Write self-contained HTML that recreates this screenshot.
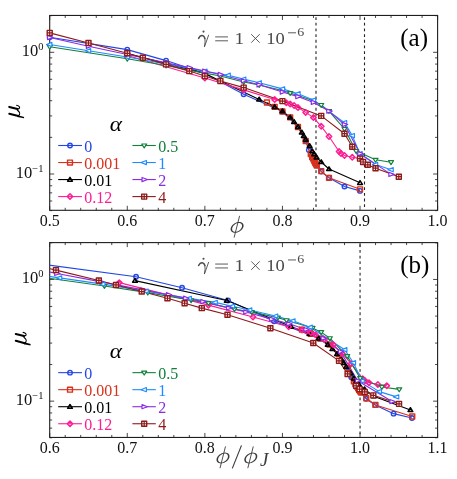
<!DOCTYPE html>
<html><head><meta charset="utf-8"><title>chart</title>
<style>
html,body{margin:0;padding:0;background:#fff;}
svg{display:block;will-change:transform;}
text{font-family:"Liberation Serif",serif;}
</style></head><body>
<svg width="457" height="479" viewBox="0 0 457 479">
<rect width="457" height="479" fill="#fff"/>
<defs>
<clipPath id="c1"><rect x="49.7" y="15.45" width="387.9" height="194.85"/></clipPath>
<clipPath id="c2"><rect x="49.7" y="242.6" width="387.9" height="194.85"/></clipPath>
</defs>

<path d="M316 15.45V210.3" stroke="#222" stroke-width="1.1" stroke-dasharray="2.8 2.87" stroke-dashoffset="3.97" fill="none"/>
<path d="M364.5 15.45V210.3" stroke="#222" stroke-width="1.1" stroke-dasharray="2.8 2.87" stroke-dashoffset="3.97" fill="none"/>
<path d="M49.7 210.3v-4.5M49.7 15.45v4.5M65.22 210.3v-2.5M65.22 15.45v2.5M80.73 210.3v-2.5M80.73 15.45v2.5M96.25 210.3v-2.5M96.25 15.45v2.5M111.76 210.3v-2.5M111.76 15.45v2.5M127.28 210.3v-4.5M127.28 15.45v4.5M142.8 210.3v-2.5M142.8 15.45v2.5M158.31 210.3v-2.5M158.31 15.45v2.5M173.83 210.3v-2.5M173.83 15.45v2.5M189.34 210.3v-2.5M189.34 15.45v2.5M204.86 210.3v-4.5M204.86 15.45v4.5M220.38 210.3v-2.5M220.38 15.45v2.5M235.89 210.3v-2.5M235.89 15.45v2.5M251.41 210.3v-2.5M251.41 15.45v2.5M266.92 210.3v-2.5M266.92 15.45v2.5M282.44 210.3v-4.5M282.44 15.45v4.5M297.96 210.3v-2.5M297.96 15.45v2.5M313.47 210.3v-2.5M313.47 15.45v2.5M328.99 210.3v-2.5M328.99 15.45v2.5M344.5 210.3v-2.5M344.5 15.45v2.5M360.02 210.3v-4.5M360.02 15.45v4.5M375.54 210.3v-2.5M375.54 15.45v2.5M391.05 210.3v-2.5M391.05 15.45v2.5M406.57 210.3v-2.5M406.57 15.45v2.5M422.08 210.3v-2.5M422.08 15.45v2.5M437.6 210.3v-4.5M437.6 15.45v4.5M49.7 52.3h4.5M437.6 52.3h-4.5M49.7 15.66h2.5M437.6 15.66h-2.5M49.7 174h4.5M437.6 174h-4.5M49.7 137.36h2.5M437.6 137.36h-2.5M49.7 115.93h2.5M437.6 115.93h-2.5M49.7 100.73h2.5M437.6 100.73h-2.5M49.7 88.94h2.5M437.6 88.94h-2.5M49.7 79.3h2.5M437.6 79.3h-2.5M49.7 71.15h2.5M437.6 71.15h-2.5M49.7 64.09h2.5M437.6 64.09h-2.5M49.7 57.87h2.5M437.6 57.87h-2.5M49.7 210.64h2.5M437.6 210.64h-2.5M49.7 201h2.5M437.6 201h-2.5M49.7 192.85h2.5M437.6 192.85h-2.5M49.7 185.79h2.5M437.6 185.79h-2.5M49.7 179.57h2.5M437.6 179.57h-2.5" stroke="#333" stroke-width="0.9" fill="none"/>
<rect x="49.7" y="15.45" width="387.9" height="194.85" fill="none" stroke="#1e1e1e" stroke-width="1.1"/>
<g fill="none" stroke-width="1.1" stroke-linejoin="round" clip-path="url(#c1)">
<path d="M49.7 37.3L127.28 49.6L166.07 60.6L204.86 73.4L243.65 94.2L282.44 111.5L297.96 127L305.71 140.7L308.82 150.1L312.31 158.5L316.89 165.2L321.23 171.6L328.99 177.8L344.5 186.5L360.02 190.9" stroke="#2346e6"/>
<path d="M266.92 102.5L274.68 106.8L282.44 111.5L290.2 117.4L297.96 127L305.71 141L310.76 154.1L312.15 157L313.47 159.4L314.33 161.2L315.18 162.9L316.03 164.3L316.89 165.5L321.23 171.1L328.99 177.8L360.02 189.3" stroke="#d9301a"/>
<path d="M127.28 53.5L204.86 73.4L259.17 99.4L274.68 106.8L282.44 111.2L290.2 117.4L294.08 121.8L297.96 126.8L301.83 132.3L303.77 135.8L305.71 139.6L309.59 145.9L312.31 151.2L314.25 154.1L316.58 157.3L321.23 162L328.99 169L360.02 182.8" stroke="#000000"/>
<path d="M127.28 55.5L204.86 78L243.65 89.9L274.68 99.6L286.32 102.8L290.2 104.1L294.08 105.5L297.96 107.6L305.71 112.4L313.47 117.6L321.23 126.3L328.99 136.5L339.07 151.5L341.01 153.5L344.5 155.5L352.26 157.3L360.02 158.5" stroke="#ff1c93"/>
<path d="M49.7 46.7L127.28 58.8L166.07 65.5L204.86 73.1L220.38 76L243.65 82L259.17 85L282.44 90.5L290.2 93.1L313.47 100.8L321.23 105L328.99 111.1L344.5 129L356.14 151L375.54 159.8L391.05 162.2" stroke="#12803a"/>
<path d="M49.7 44.5L88.49 50.7L127.28 57L166.07 64L204.86 71.2L228.13 75.2L243.65 79.1L259.17 82.8L282.44 88.9L297.96 93.7L313.47 100.1L344.5 122.6L352.26 135.6L360.02 153.7L375.54 164.5L391.05 169.7" stroke="#1e8cff"/>
<path d="M49.7 37.5L88.49 46.3L127.28 54.5L166.07 62.7L189.34 67.6L204.86 71.1L220.38 74.5L243.65 80.8L259.17 84.8L282.44 92L297.96 96.6L313.47 102.4L328.99 111.1L344.5 124.5L360.02 153.6L391.05 174.4" stroke="#8a2be2"/>
<path d="M49.7 32.9L88.49 43L127.28 53.3L142.8 57.8L166.07 64.4L189.34 71.1L204.86 76.1L220.38 81L243.65 87.6L282.44 101.1L321.23 115.9L344.5 133.7L352.26 146.8L360.02 158.6L363.12 162L367.78 164.8L375.54 168.2L398.81 176.7" stroke="#8e1a1a"/>
</g>
<g stroke-width="1.4" stroke-linejoin="round">
<g stroke="#2346e6" fill="none">
<circle cx="49.7" cy="37.3" r="2.25"/>
<circle cx="127.28" cy="49.6" r="2.25"/>
<circle cx="166.07" cy="60.6" r="2.25"/>
<circle cx="204.86" cy="73.4" r="2.25"/>
<circle cx="243.65" cy="94.2" r="2.25"/>
<circle cx="282.44" cy="111.5" r="2.25"/>
<circle cx="297.96" cy="127" r="2.25"/>
<circle cx="305.71" cy="140.7" r="2.25"/>
<circle cx="308.82" cy="150.1" r="2.25"/>
<circle cx="312.31" cy="158.5" r="2.25"/>
<circle cx="316.89" cy="165.2" r="2.25"/>
<circle cx="321.23" cy="171.6" r="2.25"/>
<circle cx="328.99" cy="177.8" r="2.25"/>
<circle cx="344.5" cy="186.5" r="2.25"/>
<circle cx="360.02" cy="190.9" r="2.25"/>
</g>
<g stroke="#d9301a" fill="none">
<rect x="264.47" y="100.05" width="4.9" height="4.9"/>
<rect x="272.23" y="104.35" width="4.9" height="4.9"/>
<rect x="279.99" y="109.05" width="4.9" height="4.9"/>
<rect x="287.75" y="114.95" width="4.9" height="4.9"/>
<rect x="295.51" y="124.55" width="4.9" height="4.9"/>
<rect x="303.26" y="138.55" width="4.9" height="4.9"/>
<rect x="308.31" y="151.65" width="4.9" height="4.9"/>
<rect x="309.7" y="154.55" width="4.9" height="4.9"/>
<rect x="311.02" y="156.95" width="4.9" height="4.9"/>
<rect x="311.88" y="158.75" width="4.9" height="4.9"/>
<rect x="312.73" y="160.45" width="4.9" height="4.9"/>
<rect x="313.58" y="161.85" width="4.9" height="4.9"/>
<rect x="314.44" y="163.05" width="4.9" height="4.9"/>
<rect x="318.78" y="168.65" width="4.9" height="4.9"/>
<rect x="326.54" y="175.35" width="4.9" height="4.9"/>
<rect x="357.57" y="186.85" width="4.9" height="4.9"/>
</g>
<g stroke="#000000" fill="none">
<path d="M127.28 51.3L129.68 55.1H124.88Z" stroke-width="1.5"/>
<path d="M204.86 71.2L207.26 75H202.46Z" stroke-width="1.5"/>
<path d="M259.17 97.2L261.57 101H256.77Z" stroke-width="1.5"/>
<path d="M274.68 104.6L277.08 108.4H272.28Z" stroke-width="1.5"/>
<path d="M282.44 109L284.84 112.8H280.04Z" stroke-width="1.5"/>
<path d="M290.2 115.2L292.6 119H287.8Z" stroke-width="1.5"/>
<path d="M294.08 119.6L296.48 123.4H291.68Z" stroke-width="1.5"/>
<path d="M297.96 124.6L300.36 128.4H295.56Z" stroke-width="1.5"/>
<path d="M301.83 130.1L304.23 133.9H299.44Z" stroke-width="1.5"/>
<path d="M303.77 133.6L306.17 137.4H301.37Z" stroke-width="1.5"/>
<path d="M305.71 137.4L308.11 141.2H303.31Z" stroke-width="1.5"/>
<path d="M309.59 143.7L311.99 147.5H307.19Z" stroke-width="1.5"/>
<path d="M312.31 149L314.71 152.8H309.91Z" stroke-width="1.5"/>
<path d="M314.25 151.9L316.65 155.7H311.85Z" stroke-width="1.5"/>
<path d="M316.58 155.1L318.98 158.9H314.18Z" stroke-width="1.5"/>
<path d="M321.23 159.8L323.63 163.6H318.83Z" stroke-width="1.5"/>
<path d="M328.99 166.8L331.39 170.6H326.59Z" stroke-width="1.5"/>
<path d="M360.02 180.6L362.42 184.4H357.62Z" stroke-width="1.5"/>
</g>
<g stroke="#ff1c93" fill="none">
<path d="M127.28 52.8L129.98 55.5L127.28 58.2L124.58 55.5Z" stroke-width="1.5"/>
<path d="M204.86 75.3L207.56 78L204.86 80.7L202.16 78Z" stroke-width="1.5"/>
<path d="M243.65 87.2L246.35 89.9L243.65 92.6L240.95 89.9Z" stroke-width="1.5"/>
<path d="M274.68 96.9L277.38 99.6L274.68 102.3L271.98 99.6Z" stroke-width="1.5"/>
<path d="M286.32 100.1L289.02 102.8L286.32 105.5L283.62 102.8Z" stroke-width="1.5"/>
<path d="M290.2 101.4L292.9 104.1L290.2 106.8L287.5 104.1Z" stroke-width="1.5"/>
<path d="M294.08 102.8L296.78 105.5L294.08 108.2L291.38 105.5Z" stroke-width="1.5"/>
<path d="M297.96 104.9L300.66 107.6L297.96 110.3L295.26 107.6Z" stroke-width="1.5"/>
<path d="M305.71 109.7L308.41 112.4L305.71 115.1L303.01 112.4Z" stroke-width="1.5"/>
<path d="M313.47 114.9L316.17 117.6L313.47 120.3L310.77 117.6Z" stroke-width="1.5"/>
<path d="M321.23 123.6L323.93 126.3L321.23 129L318.53 126.3Z" stroke-width="1.5"/>
<path d="M328.99 133.8L331.69 136.5L328.99 139.2L326.29 136.5Z" stroke-width="1.5"/>
<path d="M339.07 148.8L341.77 151.5L339.07 154.2L336.37 151.5Z" stroke-width="1.5"/>
<path d="M341.01 150.8L343.71 153.5L341.01 156.2L338.31 153.5Z" stroke-width="1.5"/>
<path d="M344.5 152.8L347.2 155.5L344.5 158.2L341.8 155.5Z" stroke-width="1.5"/>
<path d="M352.26 154.6L354.96 157.3L352.26 160L349.56 157.3Z" stroke-width="1.5"/>
<path d="M360.02 155.8L362.72 158.5L360.02 161.2L357.32 158.5Z" stroke-width="1.5"/>
</g>
<g stroke="#12803a" fill="#fff">
<path d="M49.7 49.1L52.2 45.2H47.2Z" stroke-width="1.2"/>
<path d="M127.28 61.2L129.78 57.3H124.78Z" stroke-width="1.2"/>
<path d="M166.07 67.9L168.57 64H163.57Z" stroke-width="1.2"/>
<path d="M204.86 75.5L207.36 71.6H202.36Z" stroke-width="1.2"/>
<path d="M220.38 78.4L222.88 74.5H217.88Z" stroke-width="1.2"/>
<path d="M243.65 84.4L246.15 80.5H241.15Z" stroke-width="1.2"/>
<path d="M259.17 87.4L261.67 83.5H256.67Z" stroke-width="1.2"/>
<path d="M282.44 92.9L284.94 89H279.94Z" stroke-width="1.2"/>
<path d="M290.2 95.5L292.7 91.6H287.7Z" stroke-width="1.2"/>
<path d="M313.47 103.2L315.97 99.3H310.97Z" stroke-width="1.2"/>
<path d="M321.23 107.4L323.73 103.5H318.73Z" stroke-width="1.2"/>
<path d="M328.99 113.5L331.49 109.6H326.49Z" stroke-width="1.2"/>
<path d="M344.5 131.4L347 127.5H342Z" stroke-width="1.2"/>
<path d="M356.14 153.4L358.64 149.5H353.64Z" stroke-width="1.2"/>
<path d="M375.54 162.2L378.04 158.3H373.04Z" stroke-width="1.2"/>
<path d="M391.05 164.6L393.55 160.7H388.55Z" stroke-width="1.2"/>
</g>
<g stroke="#1e8cff" fill="#fff">
<path d="M46.5 44.5L51.9 42.4V46.6Z" stroke-width="1.15"/>
<path d="M85.29 50.7L90.69 48.6V52.8Z" stroke-width="1.15"/>
<path d="M124.08 57L129.48 54.9V59.1Z" stroke-width="1.15"/>
<path d="M162.87 64L168.27 61.9V66.1Z" stroke-width="1.15"/>
<path d="M201.66 71.2L207.06 69.1V73.3Z" stroke-width="1.15"/>
<path d="M224.93 75.2L230.33 73.1V77.3Z" stroke-width="1.15"/>
<path d="M240.45 79.1L245.85 77V81.2Z" stroke-width="1.15"/>
<path d="M255.97 82.8L261.37 80.7V84.9Z" stroke-width="1.15"/>
<path d="M279.24 88.9L284.64 86.8V91Z" stroke-width="1.15"/>
<path d="M294.76 93.7L300.16 91.6V95.8Z" stroke-width="1.15"/>
<path d="M310.27 100.1L315.67 98V102.2Z" stroke-width="1.15"/>
<path d="M341.3 122.6L346.7 120.5V124.7Z" stroke-width="1.15"/>
<path d="M349.06 135.6L354.46 133.5V137.7Z" stroke-width="1.15"/>
<path d="M356.82 153.7L362.22 151.6V155.8Z" stroke-width="1.15"/>
<path d="M372.34 164.5L377.74 162.4V166.6Z" stroke-width="1.15"/>
<path d="M387.85 169.7L393.25 167.6V171.8Z" stroke-width="1.15"/>
</g>
<g stroke="#8a2be2" fill="#fff">
<path d="M52.9 37.5L47.5 35.4V39.6Z" stroke-width="1.15"/>
<path d="M91.69 46.3L86.29 44.2V48.4Z" stroke-width="1.15"/>
<path d="M130.48 54.5L125.08 52.4V56.6Z" stroke-width="1.15"/>
<path d="M169.27 62.7L163.87 60.6V64.8Z" stroke-width="1.15"/>
<path d="M192.54 67.6L187.14 65.5V69.7Z" stroke-width="1.15"/>
<path d="M208.06 71.1L202.66 69V73.2Z" stroke-width="1.15"/>
<path d="M223.58 74.5L218.18 72.4V76.6Z" stroke-width="1.15"/>
<path d="M246.85 80.8L241.45 78.7V82.9Z" stroke-width="1.15"/>
<path d="M262.37 84.8L256.97 82.7V86.9Z" stroke-width="1.15"/>
<path d="M285.64 92L280.24 89.9V94.1Z" stroke-width="1.15"/>
<path d="M301.16 96.6L295.76 94.5V98.7Z" stroke-width="1.15"/>
<path d="M316.67 102.4L311.27 100.3V104.5Z" stroke-width="1.15"/>
<path d="M332.19 111.1L326.79 109V113.2Z" stroke-width="1.15"/>
<path d="M347.7 124.5L342.3 122.4V126.6Z" stroke-width="1.15"/>
<path d="M363.22 153.6L357.82 151.5V155.7Z" stroke-width="1.15"/>
<path d="M394.25 174.4L388.85 172.3V176.5Z" stroke-width="1.15"/>
</g>
<g stroke="#8e1a1a" fill="#fff">
<rect x="47.2" y="30.4" width="5" height="5"/><path d="M47.2 32.9H52.2M49.7 30.4V35.4" stroke-width="1.2"/>
<rect x="85.99" y="40.5" width="5" height="5"/><path d="M85.99 43H90.99M88.49 40.5V45.5" stroke-width="1.2"/>
<rect x="124.78" y="50.8" width="5" height="5"/><path d="M124.78 53.3H129.78M127.28 50.8V55.8" stroke-width="1.2"/>
<rect x="140.3" y="55.3" width="5" height="5"/><path d="M140.3 57.8H145.3M142.8 55.3V60.3" stroke-width="1.2"/>
<rect x="163.57" y="61.9" width="5" height="5"/><path d="M163.57 64.4H168.57M166.07 61.9V66.9" stroke-width="1.2"/>
<rect x="186.84" y="68.6" width="5" height="5"/><path d="M186.84 71.1H191.84M189.34 68.6V73.6" stroke-width="1.2"/>
<rect x="202.36" y="73.6" width="5" height="5"/><path d="M202.36 76.1H207.36M204.86 73.6V78.6" stroke-width="1.2"/>
<rect x="217.88" y="78.5" width="5" height="5"/><path d="M217.88 81H222.88M220.38 78.5V83.5" stroke-width="1.2"/>
<rect x="241.15" y="85.1" width="5" height="5"/><path d="M241.15 87.6H246.15M243.65 85.1V90.1" stroke-width="1.2"/>
<rect x="279.94" y="98.6" width="5" height="5"/><path d="M279.94 101.1H284.94M282.44 98.6V103.6" stroke-width="1.2"/>
<rect x="318.73" y="113.4" width="5" height="5"/><path d="M318.73 115.9H323.73M321.23 113.4V118.4" stroke-width="1.2"/>
<rect x="342" y="131.2" width="5" height="5"/><path d="M342 133.7H347M344.5 131.2V136.2" stroke-width="1.2"/>
<rect x="349.76" y="144.3" width="5" height="5"/><path d="M349.76 146.8H354.76M352.26 144.3V149.3" stroke-width="1.2"/>
<rect x="357.52" y="156.1" width="5" height="5"/><path d="M357.52 158.6H362.52M360.02 156.1V161.1" stroke-width="1.2"/>
<rect x="360.62" y="159.5" width="5" height="5"/><path d="M360.62 162H365.62M363.12 159.5V164.5" stroke-width="1.2"/>
<rect x="365.28" y="162.3" width="5" height="5"/><path d="M365.28 164.8H370.28M367.78 162.3V167.3" stroke-width="1.2"/>
<rect x="373.04" y="165.7" width="5" height="5"/><path d="M373.04 168.2H378.04M375.54 165.7V170.7" stroke-width="1.2"/>
<rect x="396.31" y="174.2" width="5" height="5"/><path d="M396.31 176.7H401.31M398.81 174.2V179.2" stroke-width="1.2"/>
</g>
</g>
<text x="49.7" y="225.8" font-size="16" text-anchor="middle" fill="#111">0.5</text>
<text x="127.28" y="225.8" font-size="16" text-anchor="middle" fill="#111">0.6</text>
<text x="204.86" y="225.8" font-size="16" text-anchor="middle" fill="#111">0.7</text>
<text x="282.44" y="225.8" font-size="16" text-anchor="middle" fill="#111">0.8</text>
<text x="360.02" y="225.8" font-size="16" text-anchor="middle" fill="#111">0.9</text>
<text x="437.6" y="225.8" font-size="16" text-anchor="middle" fill="#111">1.0</text>
<text x="43.5" y="56" font-size="16.5" text-anchor="end" fill="#111">10<tspan font-size="10.5" dy="-6.2">0</tspan></text>
<text x="43.5" y="177.7" font-size="16.5" text-anchor="end" fill="#111">10<tspan font-size="10.5" dy="-6.2">−1</tspan></text>
<g transform="translate(0 0)" fill="none" stroke="#000" stroke-linecap="round" stroke-linejoin="round"><path d="M9.3 113.7L18.3 116.1" stroke-width="2.1"/><path d="M18 115.2L24.2 116.9L23.9 118.3L17.4 117.1Z" fill="#000" stroke="none"/><path d="M9.3 106.9L17.5 108.9" stroke-width="2.1"/><path d="M17.5 109Q20.1 108.7 19.5 106.9Q18.8 105.5 16.6 105.2" stroke-width="1.1"/><path d="M17.3 110Q20.3 112.4 19.5 114.4Q19.1 115.6 18 116.2" stroke-width="1.1"/></g>
<g transform="translate(0 0)" fill="#4a4a4a" stroke="none"><g fill="none" stroke="#4a4a4a" stroke-linecap="round" stroke-linejoin="round"><path d="M198.6 38.4Q200 35.4 202.3 35.5Q204.2 35.7 204.9 38.4" stroke-width="1.5"/><path d="M204.9 38.4Q205.6 41.5 204.4 46.9L208.6 35.2" stroke-width="0.9"/><path d="M215.2 36.9H228M215.2 40.8H228" stroke-width="0.9" stroke-linecap="butt"/><path d="M251.2 34.2L259.7 42.7M259.7 34.2L251.2 42.7" stroke-width="0.9" stroke-linecap="butt"/><path d="M288 32.8H296" stroke-width="0.9" stroke-linecap="butt"/></g><circle cx="203.5" cy="31.6" r="1.05"/><text transform="translate(234.6 43.7) scale(1.1 1)" font-size="17.5">1</text><text transform="translate(266.3 43.7) scale(1.06 1)" font-size="17.5">10</text><text transform="translate(297.2 36.3) scale(1.12 1)" font-size="12.5">6</text></g>
<text x="400.3" y="45.6" font-size="25" fill="#000">(a)</text>
<text transform="translate(109.8 130.6) scale(1.06 1)" font-size="22" font-style="italic" fill="#000">α</text>
<g stroke="#2346e6" fill="none" stroke-width="1.4" stroke-linejoin="round"><path d="M58.2 145.5H82" stroke-width="1.1"/><circle cx="70" cy="145.5" r="2.25"/></g>
<text x="84.3" y="151.7" font-size="16" fill="#2346e6">0</text>
<g stroke="#d9301a" fill="none" stroke-width="1.4" stroke-linejoin="round"><path d="M58.2 162.53H82" stroke-width="1.1"/><rect x="67.55" y="160.08" width="4.9" height="4.9"/></g>
<text x="84.3" y="168.73" font-size="16" fill="#d9301a">0.001</text>
<g stroke="#000000" fill="none" stroke-width="1.4" stroke-linejoin="round"><path d="M58.2 179.56H82" stroke-width="1.1"/><path d="M70 177.36L72.4 181.16H67.6Z" stroke-width="1.5"/></g>
<text x="84.3" y="185.76" font-size="16" fill="#000000">0.01</text>
<g stroke="#ff1c93" fill="none" stroke-width="1.4" stroke-linejoin="round"><path d="M58.2 196.59H82" stroke-width="1.1"/><path d="M70 193.89L72.7 196.59L70 199.29L67.3 196.59Z" stroke-width="1.5"/></g>
<text x="84.3" y="202.79" font-size="16" fill="#ff1c93">0.12</text>
<g stroke="#12803a" fill="#fff" stroke-width="1.4" stroke-linejoin="round"><path d="M132.4 145.5H155.8" stroke-width="1.1"/><path d="M144.2 147.9L146.7 144H141.7Z" stroke-width="1.2"/></g>
<text x="158.2" y="151.7" font-size="16" fill="#12803a">0.5</text>
<g stroke="#1e8cff" fill="#fff" stroke-width="1.4" stroke-linejoin="round"><path d="M132.4 162.53H155.8" stroke-width="1.1"/><path d="M141 162.53L146.4 160.43V164.63Z" stroke-width="1.15"/></g>
<text x="158.2" y="168.73" font-size="16" fill="#1e8cff">1</text>
<g stroke="#8a2be2" fill="#fff" stroke-width="1.4" stroke-linejoin="round"><path d="M132.4 179.56H155.8" stroke-width="1.1"/><path d="M147.4 179.56L142 177.46V181.66Z" stroke-width="1.15"/></g>
<text x="158.2" y="185.76" font-size="16" fill="#8a2be2">2</text>
<g stroke="#8e1a1a" fill="#fff" stroke-width="1.4" stroke-linejoin="round"><path d="M132.4 196.59H155.8" stroke-width="1.1"/><rect x="141.7" y="194.09" width="5" height="5"/><path d="M141.7 196.59H146.7M144.2 194.09V199.09" stroke-width="1.2"/></g>
<text x="158.2" y="202.79" font-size="16" fill="#8e1a1a">4</text>
<path d="M360.05 242.6V437.45" stroke="#222" stroke-width="1.1" stroke-dasharray="2.8 2.87" stroke-dashoffset="3.97" fill="none"/>
<path d="M49.7 437.45v-4.5M49.7 242.6v4.5M65.22 437.45v-2.5M65.22 242.6v2.5M80.73 437.45v-2.5M80.73 242.6v2.5M96.25 437.45v-2.5M96.25 242.6v2.5M111.76 437.45v-2.5M111.76 242.6v2.5M127.28 437.45v-4.5M127.28 242.6v4.5M142.8 437.45v-2.5M142.8 242.6v2.5M158.31 437.45v-2.5M158.31 242.6v2.5M173.83 437.45v-2.5M173.83 242.6v2.5M189.34 437.45v-2.5M189.34 242.6v2.5M204.86 437.45v-4.5M204.86 242.6v4.5M220.38 437.45v-2.5M220.38 242.6v2.5M235.89 437.45v-2.5M235.89 242.6v2.5M251.41 437.45v-2.5M251.41 242.6v2.5M266.92 437.45v-2.5M266.92 242.6v2.5M282.44 437.45v-4.5M282.44 242.6v4.5M297.96 437.45v-2.5M297.96 242.6v2.5M313.47 437.45v-2.5M313.47 242.6v2.5M328.99 437.45v-2.5M328.99 242.6v2.5M344.5 437.45v-2.5M344.5 242.6v2.5M360.02 437.45v-4.5M360.02 242.6v4.5M375.54 437.45v-2.5M375.54 242.6v2.5M391.05 437.45v-2.5M391.05 242.6v2.5M406.57 437.45v-2.5M406.57 242.6v2.5M422.08 437.45v-2.5M422.08 242.6v2.5M437.6 437.45v-4.5M437.6 242.6v4.5M49.7 279.45h4.5M437.6 279.45h-4.5M49.7 242.81h2.5M437.6 242.81h-2.5M49.7 401.15h4.5M437.6 401.15h-4.5M49.7 364.51h2.5M437.6 364.51h-2.5M49.7 343.08h2.5M437.6 343.08h-2.5M49.7 327.88h2.5M437.6 327.88h-2.5M49.7 316.09h2.5M437.6 316.09h-2.5M49.7 306.45h2.5M437.6 306.45h-2.5M49.7 298.3h2.5M437.6 298.3h-2.5M49.7 291.24h2.5M437.6 291.24h-2.5M49.7 285.02h2.5M437.6 285.02h-2.5M49.7 437.79h2.5M437.6 437.79h-2.5M49.7 428.15h2.5M437.6 428.15h-2.5M49.7 420h2.5M437.6 420h-2.5M49.7 412.94h2.5M437.6 412.94h-2.5M49.7 406.72h2.5M437.6 406.72h-2.5" stroke="#333" stroke-width="0.9" fill="none"/>
<rect x="49.7" y="242.6" width="387.9" height="194.85" fill="none" stroke="#1e1e1e" stroke-width="1.1"/>
<g fill="none" stroke-width="1.1" stroke-linejoin="round" clip-path="url(#c2)">
<path d="M44.09 264.45L136.06 276.75L182.05 287.75L228.04 300.55L274.02 321.35L320.01 338.65L338.41 354.15L347.6 367.85L351.28 377.25L355.42 385.65L360.85 392.35L366 398.75L375.2 404.95L393.59 413.65L411.99 418.05" stroke="#2346e6"/>
<path d="M301.87 329.65L311.07 333.95L320.27 338.65L329.47 344.55L338.67 354.15L347.88 368.15L353.86 381.25L355.51 384.15L357.08 386.55L358.09 388.35L359.1 390.05L360.11 391.45L361.12 392.65L366.28 398.25L375.48 404.95L412.28 416.45" stroke="#d9301a"/>
<path d="M135.02 280.65L226.82 300.55L291.08 326.55L309.44 333.95L318.62 338.35L327.8 344.55L332.39 348.95L336.98 353.95L341.57 359.45L343.86 362.95L346.16 366.75L350.75 373.05L353.96 378.35L356.26 381.25L359.01 384.45L364.52 389.15L373.7 396.15L410.42 409.95" stroke="#000000"/>
<path d="M119.25 282.65L208.43 305.15L253.01 317.05L288.68 326.75L302.06 329.95L306.52 331.25L310.98 332.65L315.43 334.75L324.35 339.55L333.27 344.75L342.19 353.45L351.1 363.65L362.7 378.65L364.92 380.65L368.94 382.65L377.85 384.45L386.77 385.65" stroke="#ff1c93"/>
<path d="M17.72 273.85L104.43 285.95L147.78 292.65L191.13 300.25L208.47 303.15L234.48 309.15L251.82 312.15L277.83 317.65L286.5 320.25L312.51 327.95L321.18 332.15L329.85 338.25L347.19 356.15L360.19 378.15L381.87 386.95L399.21 389.35" stroke="#12803a"/>
<path d="M16.32 271.65L59.53 277.85L102.75 284.15L145.96 291.15L189.17 298.35L215.09 302.35L232.38 306.25L249.66 309.95L275.59 316.05L292.87 320.85L310.16 327.25L344.72 349.75L353.37 362.75L362.01 380.85L379.29 391.65L396.58 396.85" stroke="#1e8cff"/>
<path d="M13.93 264.65L56.9 273.45L99.87 281.65L142.84 289.85L168.63 294.75L185.82 298.25L203 301.65L228.79 307.95L245.97 311.95L271.76 319.15L288.95 323.75L306.13 329.55L323.32 338.25L340.51 351.65L357.7 380.75L392.08 401.55" stroke="#8a2be2"/>
<path d="M13.08 260.05L55.96 270.15L98.85 280.45L116 284.95L141.73 291.55L167.46 298.25L184.62 303.25L201.77 308.15L227.5 314.75L270.39 328.25L313.27 343.05L339.01 360.85L347.58 373.95L356.16 385.75L359.59 389.15L364.74 391.95L373.31 395.35L399.05 403.85" stroke="#8e1a1a"/>
</g>
<g stroke-width="1.4" stroke-linejoin="round">
<g stroke="#2346e6" fill="none">
<circle cx="136.06" cy="276.75" r="2.25"/>
<circle cx="182.05" cy="287.75" r="2.25"/>
<circle cx="228.04" cy="300.55" r="2.25"/>
<circle cx="274.02" cy="321.35" r="2.25"/>
<circle cx="320.01" cy="338.65" r="2.25"/>
<circle cx="338.41" cy="354.15" r="2.25"/>
<circle cx="347.6" cy="367.85" r="2.25"/>
<circle cx="351.28" cy="377.25" r="2.25"/>
<circle cx="355.42" cy="385.65" r="2.25"/>
<circle cx="360.85" cy="392.35" r="2.25"/>
<circle cx="366" cy="398.75" r="2.25"/>
<circle cx="375.2" cy="404.95" r="2.25"/>
<circle cx="393.59" cy="413.65" r="2.25"/>
<circle cx="411.99" cy="418.05" r="2.25"/>
</g>
<g stroke="#d9301a" fill="none">
<rect x="299.42" y="327.2" width="4.9" height="4.9"/>
<rect x="308.62" y="331.5" width="4.9" height="4.9"/>
<rect x="317.82" y="336.2" width="4.9" height="4.9"/>
<rect x="327.02" y="342.1" width="4.9" height="4.9"/>
<rect x="336.22" y="351.7" width="4.9" height="4.9"/>
<rect x="345.43" y="365.7" width="4.9" height="4.9"/>
<rect x="351.41" y="378.8" width="4.9" height="4.9"/>
<rect x="353.06" y="381.7" width="4.9" height="4.9"/>
<rect x="354.63" y="384.1" width="4.9" height="4.9"/>
<rect x="355.64" y="385.9" width="4.9" height="4.9"/>
<rect x="356.65" y="387.6" width="4.9" height="4.9"/>
<rect x="357.66" y="389" width="4.9" height="4.9"/>
<rect x="358.67" y="390.2" width="4.9" height="4.9"/>
<rect x="363.83" y="395.8" width="4.9" height="4.9"/>
<rect x="373.03" y="402.5" width="4.9" height="4.9"/>
<rect x="409.83" y="414" width="4.9" height="4.9"/>
</g>
<g stroke="#000000" fill="none">
<path d="M135.02 278.45L137.42 282.25H132.62Z" stroke-width="1.5"/>
<path d="M226.82 298.35L229.22 302.15H224.42Z" stroke-width="1.5"/>
<path d="M291.08 324.35L293.48 328.15H288.68Z" stroke-width="1.5"/>
<path d="M309.44 331.75L311.84 335.55H307.04Z" stroke-width="1.5"/>
<path d="M318.62 336.15L321.02 339.95H316.22Z" stroke-width="1.5"/>
<path d="M327.8 342.35L330.2 346.15H325.4Z" stroke-width="1.5"/>
<path d="M332.39 346.75L334.79 350.55H329.99Z" stroke-width="1.5"/>
<path d="M336.98 351.75L339.38 355.55H334.58Z" stroke-width="1.5"/>
<path d="M341.57 357.25L343.97 361.05H339.17Z" stroke-width="1.5"/>
<path d="M343.86 360.75L346.26 364.55H341.46Z" stroke-width="1.5"/>
<path d="M346.16 364.55L348.56 368.35H343.76Z" stroke-width="1.5"/>
<path d="M350.75 370.85L353.15 374.65H348.35Z" stroke-width="1.5"/>
<path d="M353.96 376.15L356.36 379.95H351.56Z" stroke-width="1.5"/>
<path d="M356.26 379.05L358.66 382.85H353.86Z" stroke-width="1.5"/>
<path d="M359.01 382.25L361.41 386.05H356.61Z" stroke-width="1.5"/>
<path d="M364.52 386.95L366.92 390.75H362.12Z" stroke-width="1.5"/>
<path d="M373.7 393.95L376.1 397.75H371.3Z" stroke-width="1.5"/>
<path d="M410.42 407.75L412.82 411.55H408.02Z" stroke-width="1.5"/>
</g>
<g stroke="#ff1c93" fill="none">
<path d="M119.25 279.95L121.95 282.65L119.25 285.35L116.55 282.65Z" stroke-width="1.5"/>
<path d="M208.43 302.45L211.13 305.15L208.43 307.85L205.73 305.15Z" stroke-width="1.5"/>
<path d="M253.01 314.35L255.71 317.05L253.01 319.75L250.31 317.05Z" stroke-width="1.5"/>
<path d="M288.68 324.05L291.38 326.75L288.68 329.45L285.98 326.75Z" stroke-width="1.5"/>
<path d="M302.06 327.25L304.76 329.95L302.06 332.65L299.36 329.95Z" stroke-width="1.5"/>
<path d="M306.52 328.55L309.22 331.25L306.52 333.95L303.82 331.25Z" stroke-width="1.5"/>
<path d="M310.98 329.95L313.68 332.65L310.98 335.35L308.28 332.65Z" stroke-width="1.5"/>
<path d="M315.43 332.05L318.13 334.75L315.43 337.45L312.73 334.75Z" stroke-width="1.5"/>
<path d="M324.35 336.85L327.05 339.55L324.35 342.25L321.65 339.55Z" stroke-width="1.5"/>
<path d="M333.27 342.05L335.97 344.75L333.27 347.45L330.57 344.75Z" stroke-width="1.5"/>
<path d="M342.19 350.75L344.89 353.45L342.19 356.15L339.49 353.45Z" stroke-width="1.5"/>
<path d="M351.1 360.95L353.8 363.65L351.1 366.35L348.4 363.65Z" stroke-width="1.5"/>
<path d="M362.7 375.95L365.4 378.65L362.7 381.35L360 378.65Z" stroke-width="1.5"/>
<path d="M364.92 377.95L367.62 380.65L364.92 383.35L362.22 380.65Z" stroke-width="1.5"/>
<path d="M368.94 379.95L371.64 382.65L368.94 385.35L366.24 382.65Z" stroke-width="1.5"/>
<path d="M377.85 381.75L380.55 384.45L377.85 387.15L375.15 384.45Z" stroke-width="1.5"/>
<path d="M386.77 382.95L389.47 385.65L386.77 388.35L384.07 385.65Z" stroke-width="1.5"/>
</g>
<g stroke="#12803a" fill="#fff">
<path d="M104.43 288.35L106.93 284.45H101.93Z" stroke-width="1.2"/>
<path d="M147.78 295.05L150.28 291.15H145.28Z" stroke-width="1.2"/>
<path d="M191.13 302.65L193.63 298.75H188.63Z" stroke-width="1.2"/>
<path d="M208.47 305.55L210.97 301.65H205.97Z" stroke-width="1.2"/>
<path d="M234.48 311.55L236.98 307.65H231.98Z" stroke-width="1.2"/>
<path d="M251.82 314.55L254.32 310.65H249.32Z" stroke-width="1.2"/>
<path d="M277.83 320.05L280.33 316.15H275.33Z" stroke-width="1.2"/>
<path d="M286.5 322.65L289 318.75H284Z" stroke-width="1.2"/>
<path d="M312.51 330.35L315.01 326.45H310.01Z" stroke-width="1.2"/>
<path d="M321.18 334.55L323.68 330.65H318.68Z" stroke-width="1.2"/>
<path d="M329.85 340.65L332.35 336.75H327.35Z" stroke-width="1.2"/>
<path d="M347.19 358.55L349.69 354.65H344.69Z" stroke-width="1.2"/>
<path d="M360.19 380.55L362.69 376.65H357.69Z" stroke-width="1.2"/>
<path d="M381.87 389.35L384.37 385.45H379.37Z" stroke-width="1.2"/>
<path d="M399.21 391.75L401.71 387.85H396.71Z" stroke-width="1.2"/>
</g>
<g stroke="#1e8cff" fill="#fff">
<path d="M56.33 277.85L61.73 275.75V279.95Z" stroke-width="1.15"/>
<path d="M99.55 284.15L104.95 282.05V286.25Z" stroke-width="1.15"/>
<path d="M142.76 291.15L148.16 289.05V293.25Z" stroke-width="1.15"/>
<path d="M185.97 298.35L191.37 296.25V300.45Z" stroke-width="1.15"/>
<path d="M211.89 302.35L217.29 300.25V304.45Z" stroke-width="1.15"/>
<path d="M229.18 306.25L234.58 304.15V308.35Z" stroke-width="1.15"/>
<path d="M246.46 309.95L251.86 307.85V312.05Z" stroke-width="1.15"/>
<path d="M272.39 316.05L277.79 313.95V318.15Z" stroke-width="1.15"/>
<path d="M289.67 320.85L295.07 318.75V322.95Z" stroke-width="1.15"/>
<path d="M306.96 327.25L312.36 325.15V329.35Z" stroke-width="1.15"/>
<path d="M341.52 349.75L346.92 347.65V351.85Z" stroke-width="1.15"/>
<path d="M350.17 362.75L355.57 360.65V364.85Z" stroke-width="1.15"/>
<path d="M358.81 380.85L364.21 378.75V382.95Z" stroke-width="1.15"/>
<path d="M376.09 391.65L381.49 389.55V393.75Z" stroke-width="1.15"/>
<path d="M393.38 396.85L398.78 394.75V398.95Z" stroke-width="1.15"/>
</g>
<g stroke="#8a2be2" fill="#fff">
<path d="M60.1 273.45L54.7 271.35V275.55Z" stroke-width="1.15"/>
<path d="M103.07 281.65L97.67 279.55V283.75Z" stroke-width="1.15"/>
<path d="M146.04 289.85L140.64 287.75V291.95Z" stroke-width="1.15"/>
<path d="M171.83 294.75L166.43 292.65V296.85Z" stroke-width="1.15"/>
<path d="M189.02 298.25L183.62 296.15V300.35Z" stroke-width="1.15"/>
<path d="M206.2 301.65L200.8 299.55V303.75Z" stroke-width="1.15"/>
<path d="M231.99 307.95L226.59 305.85V310.05Z" stroke-width="1.15"/>
<path d="M249.17 311.95L243.77 309.85V314.05Z" stroke-width="1.15"/>
<path d="M274.96 319.15L269.56 317.05V321.25Z" stroke-width="1.15"/>
<path d="M292.15 323.75L286.75 321.65V325.85Z" stroke-width="1.15"/>
<path d="M309.33 329.55L303.93 327.45V331.65Z" stroke-width="1.15"/>
<path d="M326.52 338.25L321.12 336.15V340.35Z" stroke-width="1.15"/>
<path d="M343.71 351.65L338.31 349.55V353.75Z" stroke-width="1.15"/>
<path d="M360.9 380.75L355.5 378.65V382.85Z" stroke-width="1.15"/>
<path d="M395.28 401.55L389.88 399.45V403.65Z" stroke-width="1.15"/>
</g>
<g stroke="#8e1a1a" fill="#fff">
<rect x="53.46" y="267.65" width="5" height="5"/><path d="M53.46 270.15H58.46M55.96 267.65V272.65" stroke-width="1.2"/>
<rect x="96.35" y="277.95" width="5" height="5"/><path d="M96.35 280.45H101.35M98.85 277.95V282.95" stroke-width="1.2"/>
<rect x="113.5" y="282.45" width="5" height="5"/><path d="M113.5 284.95H118.5M116 282.45V287.45" stroke-width="1.2"/>
<rect x="139.23" y="289.05" width="5" height="5"/><path d="M139.23 291.55H144.23M141.73 289.05V294.05" stroke-width="1.2"/>
<rect x="164.96" y="295.75" width="5" height="5"/><path d="M164.96 298.25H169.96M167.46 295.75V300.75" stroke-width="1.2"/>
<rect x="182.12" y="300.75" width="5" height="5"/><path d="M182.12 303.25H187.12M184.62 300.75V305.75" stroke-width="1.2"/>
<rect x="199.27" y="305.65" width="5" height="5"/><path d="M199.27 308.15H204.27M201.77 305.65V310.65" stroke-width="1.2"/>
<rect x="225" y="312.25" width="5" height="5"/><path d="M225 314.75H230M227.5 312.25V317.25" stroke-width="1.2"/>
<rect x="267.89" y="325.75" width="5" height="5"/><path d="M267.89 328.25H272.89M270.39 325.75V330.75" stroke-width="1.2"/>
<rect x="310.77" y="340.55" width="5" height="5"/><path d="M310.77 343.05H315.77M313.27 340.55V345.55" stroke-width="1.2"/>
<rect x="336.51" y="358.35" width="5" height="5"/><path d="M336.51 360.85H341.51M339.01 358.35V363.35" stroke-width="1.2"/>
<rect x="345.08" y="371.45" width="5" height="5"/><path d="M345.08 373.95H350.08M347.58 371.45V376.45" stroke-width="1.2"/>
<rect x="353.66" y="383.25" width="5" height="5"/><path d="M353.66 385.75H358.66M356.16 383.25V388.25" stroke-width="1.2"/>
<rect x="357.09" y="386.65" width="5" height="5"/><path d="M357.09 389.15H362.09M359.59 386.65V391.65" stroke-width="1.2"/>
<rect x="362.24" y="389.45" width="5" height="5"/><path d="M362.24 391.95H367.24M364.74 389.45V394.45" stroke-width="1.2"/>
<rect x="370.81" y="392.85" width="5" height="5"/><path d="M370.81 395.35H375.81M373.31 392.85V397.85" stroke-width="1.2"/>
<rect x="396.55" y="401.35" width="5" height="5"/><path d="M396.55 403.85H401.55M399.05 401.35V406.35" stroke-width="1.2"/>
</g>
</g>
<text x="49.7" y="452.95" font-size="16" text-anchor="middle" fill="#111">0.6</text>
<text x="127.28" y="452.95" font-size="16" text-anchor="middle" fill="#111">0.7</text>
<text x="204.86" y="452.95" font-size="16" text-anchor="middle" fill="#111">0.8</text>
<text x="282.44" y="452.95" font-size="16" text-anchor="middle" fill="#111">0.9</text>
<text x="360.02" y="452.95" font-size="16" text-anchor="middle" fill="#111">1.0</text>
<text x="437.6" y="452.95" font-size="16" text-anchor="middle" fill="#111">1.1</text>
<text x="43.5" y="283.15" font-size="16.5" text-anchor="end" fill="#111">10<tspan font-size="10.5" dy="-6.2">0</tspan></text>
<text x="43.5" y="404.85" font-size="16.5" text-anchor="end" fill="#111">10<tspan font-size="10.5" dy="-6.2">−1</tspan></text>
<g transform="translate(6.5 227.15)" fill="none" stroke="#000" stroke-linecap="round" stroke-linejoin="round"><path d="M9.3 113.7L18.3 116.1" stroke-width="2.1"/><path d="M18 115.2L24.2 116.9L23.9 118.3L17.4 117.1Z" fill="#000" stroke="none"/><path d="M9.3 106.9L17.5 108.9" stroke-width="2.1"/><path d="M17.5 109Q20.1 108.7 19.5 106.9Q18.8 105.5 16.6 105.2" stroke-width="1.1"/><path d="M17.3 110Q20.3 112.4 19.5 114.4Q19.1 115.6 18 116.2" stroke-width="1.1"/></g>
<g transform="translate(0 227.15)" fill="#4a4a4a" stroke="none"><g fill="none" stroke="#4a4a4a" stroke-linecap="round" stroke-linejoin="round"><path d="M198.6 38.4Q200 35.4 202.3 35.5Q204.2 35.7 204.9 38.4" stroke-width="1.5"/><path d="M204.9 38.4Q205.6 41.5 204.4 46.9L208.6 35.2" stroke-width="0.9"/><path d="M215.2 36.9H228M215.2 40.8H228" stroke-width="0.9" stroke-linecap="butt"/><path d="M251.2 34.2L259.7 42.7M259.7 34.2L251.2 42.7" stroke-width="0.9" stroke-linecap="butt"/><path d="M288 32.8H296" stroke-width="0.9" stroke-linecap="butt"/></g><circle cx="203.5" cy="31.6" r="1.05"/><text transform="translate(234.6 43.7) scale(1.1 1)" font-size="17.5">1</text><text transform="translate(266.3 43.7) scale(1.06 1)" font-size="17.5">10</text><text transform="translate(297.2 36.3) scale(1.12 1)" font-size="12.5">6</text></g>
<text x="400.3" y="272.75" font-size="25" fill="#000">(b)</text>
<text transform="translate(109.8 357.75) scale(1.06 1)" font-size="22" font-style="italic" fill="#000">α</text>
<g stroke="#2346e6" fill="none" stroke-width="1.4" stroke-linejoin="round"><path d="M58.2 372.65H82" stroke-width="1.1"/><circle cx="70" cy="372.65" r="2.25"/></g>
<text x="84.3" y="378.85" font-size="16" fill="#2346e6">0</text>
<g stroke="#d9301a" fill="none" stroke-width="1.4" stroke-linejoin="round"><path d="M58.2 389.68H82" stroke-width="1.1"/><rect x="67.55" y="387.23" width="4.9" height="4.9"/></g>
<text x="84.3" y="395.88" font-size="16" fill="#d9301a">0.001</text>
<g stroke="#000000" fill="none" stroke-width="1.4" stroke-linejoin="round"><path d="M58.2 406.71H82" stroke-width="1.1"/><path d="M70 404.51L72.4 408.31H67.6Z" stroke-width="1.5"/></g>
<text x="84.3" y="412.91" font-size="16" fill="#000000">0.01</text>
<g stroke="#ff1c93" fill="none" stroke-width="1.4" stroke-linejoin="round"><path d="M58.2 423.74H82" stroke-width="1.1"/><path d="M70 421.04L72.7 423.74L70 426.44L67.3 423.74Z" stroke-width="1.5"/></g>
<text x="84.3" y="429.94" font-size="16" fill="#ff1c93">0.12</text>
<g stroke="#12803a" fill="#fff" stroke-width="1.4" stroke-linejoin="round"><path d="M132.4 372.65H155.8" stroke-width="1.1"/><path d="M144.2 375.05L146.7 371.15H141.7Z" stroke-width="1.2"/></g>
<text x="158.2" y="378.85" font-size="16" fill="#12803a">0.5</text>
<g stroke="#1e8cff" fill="#fff" stroke-width="1.4" stroke-linejoin="round"><path d="M132.4 389.68H155.8" stroke-width="1.1"/><path d="M141 389.68L146.4 387.58V391.78Z" stroke-width="1.15"/></g>
<text x="158.2" y="395.88" font-size="16" fill="#1e8cff">1</text>
<g stroke="#8a2be2" fill="#fff" stroke-width="1.4" stroke-linejoin="round"><path d="M132.4 406.71H155.8" stroke-width="1.1"/><path d="M147.4 406.71L142 404.61V408.81Z" stroke-width="1.15"/></g>
<text x="158.2" y="412.91" font-size="16" fill="#8a2be2">2</text>
<g stroke="#8e1a1a" fill="#fff" stroke-width="1.4" stroke-linejoin="round"><path d="M132.4 423.74H155.8" stroke-width="1.1"/><rect x="141.7" y="421.24" width="5" height="5"/><path d="M141.7 423.74H146.7M144.2 421.24V426.24" stroke-width="1.2"/></g>
<text x="158.2" y="429.94" font-size="16" fill="#8e1a1a">4</text>
<g transform="translate(237.1 227.4)" stroke="#3c3c3c" fill="none" stroke-linecap="round"><path d="M6.06 -3.5L6.38 -2.73L6.51 -1.88L6.44 -0.97L6.17 -0.04L5.72 0.9L5.09 1.81L4.31 2.67L3.39 3.44L2.38 4.11L1.29 4.66L0.16 5.06L-0.97 5.31L-2.08 5.4L-3.12 5.33L-4.06 5.09L-4.88 4.7L-5.56 4.16L-6.06 3.5L-6.38 2.73L-6.51 1.88L-6.44 0.97L-6.17 0.04L-5.72 -0.9L-5.09 -1.81L-4.31 -2.67L-3.39 -3.44L-2.38 -4.11L-1.29 -4.66L-0.16 -5.06L0.97 -5.31L2.08 -5.4L3.12 -5.33L4.06 -5.09L4.88 -4.7L5.56 -4.16ZM4.64 -2.97L4.87 -2.35L4.95 -1.66L4.88 -0.91L4.67 -0.14L4.31 0.64L3.82 1.4L3.21 2.12L2.51 2.77L1.73 3.33L0.9 3.8L0.04 4.15L-0.82 4.38L-1.65 4.47L-2.44 4.42L-3.15 4.24L-3.77 3.94L-4.27 3.51L-4.64 2.98L-4.87 2.35L-4.95 1.66L-4.88 0.91L-4.67 0.14L-4.31 -0.64L-3.82 -1.4L-3.21 -2.12L-2.51 -2.77L-1.73 -3.33L-0.9 -3.8L-0.04 -4.15L0.82 -4.37L1.65 -4.47L2.44 -4.42L3.15 -4.24L3.77 -3.94L4.27 -3.51Z" fill="#3c3c3c" fill-rule="evenodd" stroke="none"/><path d="M2.4 -11.2L-2.9 9.8" stroke-width="0.9"/></g>
<g transform="translate(223 458)" stroke="#3c3c3c" fill="none" stroke-linecap="round"><path d="M6.06 -3.5L6.38 -2.73L6.51 -1.88L6.44 -0.97L6.17 -0.04L5.72 0.9L5.09 1.81L4.31 2.67L3.39 3.44L2.38 4.11L1.29 4.66L0.16 5.06L-0.97 5.31L-2.08 5.4L-3.12 5.33L-4.06 5.09L-4.88 4.7L-5.56 4.16L-6.06 3.5L-6.38 2.73L-6.51 1.88L-6.44 0.97L-6.17 0.04L-5.72 -0.9L-5.09 -1.81L-4.31 -2.67L-3.39 -3.44L-2.38 -4.11L-1.29 -4.66L-0.16 -5.06L0.97 -5.31L2.08 -5.4L3.12 -5.33L4.06 -5.09L4.88 -4.7L5.56 -4.16ZM4.64 -2.97L4.87 -2.35L4.95 -1.66L4.88 -0.91L4.67 -0.14L4.31 0.64L3.82 1.4L3.21 2.12L2.51 2.77L1.73 3.33L0.9 3.8L0.04 4.15L-0.82 4.38L-1.65 4.47L-2.44 4.42L-3.15 4.24L-3.77 3.94L-4.27 3.51L-4.64 2.98L-4.87 2.35L-4.95 1.66L-4.88 0.91L-4.67 0.14L-4.31 -0.64L-3.82 -1.4L-3.21 -2.12L-2.51 -2.77L-1.73 -3.33L-0.9 -3.8L-0.04 -4.15L0.82 -4.37L1.65 -4.47L2.44 -4.42L3.15 -4.24L3.77 -3.94L4.27 -3.51Z" fill="#3c3c3c" fill-rule="evenodd" stroke="none"/><path d="M2.4 -11.2L-2.9 9.8" stroke-width="0.9"/></g>
<g transform="translate(250.8 458)" stroke="#3c3c3c" fill="none" stroke-linecap="round"><path d="M6.06 -3.5L6.38 -2.73L6.51 -1.88L6.44 -0.97L6.17 -0.04L5.72 0.9L5.09 1.81L4.31 2.67L3.39 3.44L2.38 4.11L1.29 4.66L0.16 5.06L-0.97 5.31L-2.08 5.4L-3.12 5.33L-4.06 5.09L-4.88 4.7L-5.56 4.16L-6.06 3.5L-6.38 2.73L-6.51 1.88L-6.44 0.97L-6.17 0.04L-5.72 -0.9L-5.09 -1.81L-4.31 -2.67L-3.39 -3.44L-2.38 -4.11L-1.29 -4.66L-0.16 -5.06L0.97 -5.31L2.08 -5.4L3.12 -5.33L4.06 -5.09L4.88 -4.7L5.56 -4.16ZM4.64 -2.97L4.87 -2.35L4.95 -1.66L4.88 -0.91L4.67 -0.14L4.31 0.64L3.82 1.4L3.21 2.12L2.51 2.77L1.73 3.33L0.9 3.8L0.04 4.15L-0.82 4.38L-1.65 4.47L-2.44 4.42L-3.15 4.24L-3.77 3.94L-4.27 3.51L-4.64 2.98L-4.87 2.35L-4.95 1.66L-4.88 0.91L-4.67 0.14L-4.31 -0.64L-3.82 -1.4L-3.21 -2.12L-2.51 -2.77L-1.73 -3.33L-0.9 -3.8L-0.04 -4.15L0.82 -4.37L1.65 -4.47L2.44 -4.42L3.15 -4.24L3.77 -3.94L4.27 -3.51Z" fill="#3c3c3c" fill-rule="evenodd" stroke="none"/><path d="M2.4 -11.2L-2.9 9.8" stroke-width="0.9"/></g>
<path d="M232.3 468.4L241.5 445.4" stroke="#3c3c3c" stroke-width="1.15" fill="none"/>
<text x="260" y="466.4" font-size="19" font-style="italic" fill="#3c3c3c">J</text>
</svg></body></html>
